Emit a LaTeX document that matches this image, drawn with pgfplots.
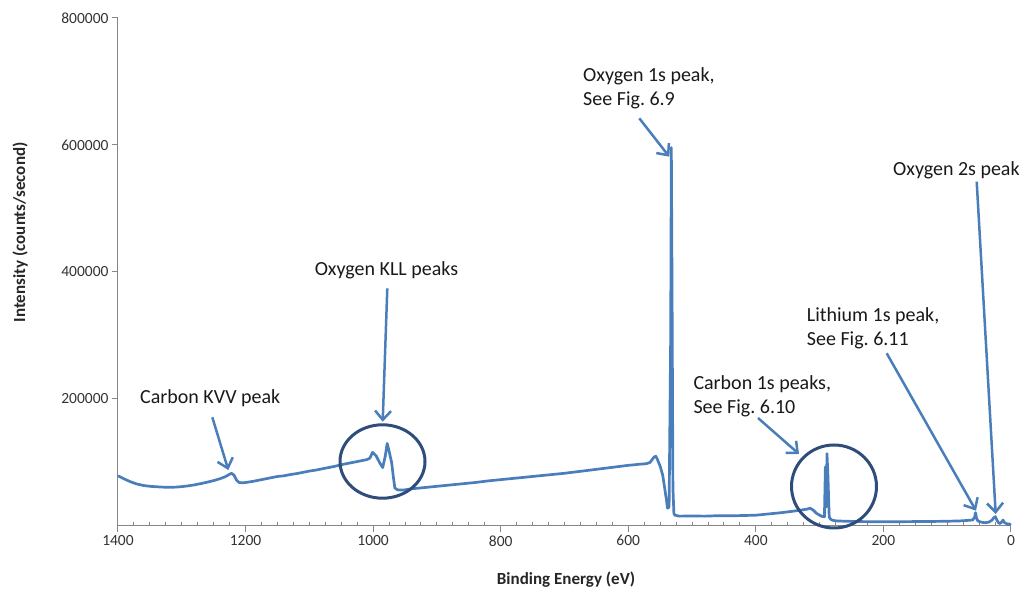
\documentclass[border=0pt]{standalone}
\usepackage{fontspec}
\setmainfont{Carlito}
\usepackage{pgfplots}
\pgfplotsset{compat=1.18}
\usetikzlibrary{arrows.meta}
\definecolor{specblue}{HTML}{4A7EBB}
\definecolor{ringblue}{HTML}{2E4D7B}
\definecolor{axisgrey}{HTML}{868686}
\frenchspacing

% XPS survey spectrum: binding energy (eV) vs. intensity (counts/s)
\pgfplotstableread{
be     cps
1400   79000
1390   74000
1380   69500
1370   66000
1360   63800
1350   62500
1340   61800
1330   61200
1320   61000
1310   61200
1300   62000
1290   63200
1280   64800
1270   66800
1260   69000
1250   71500
1240   74500
1232   77500
1226   81000
1222   83000
1218   80000
1214   72000
1210   68500
1205   68000
1200   68500
1190   70000
1180   72000
1170   74000
1160   76000
1150   78000
1140   79000
1130   81000
1120   82500
1110   84500
1100   86500
1090   88000
1080   90000
1070   92000
1060   94000
1050   96500
1040   98500
1030   100500
1020   102500
1010   104500
1005   107000
1001   116000
995    110000
990    100000
985    92000
981    110000
978    130000
975    118000
971    100000
968    75000
966    60000
962    57000
955    56500
950    57000
940    58500
930    59500
920    60500
910    61500
900    62500
880    64500
860    66500
840    68500
820    71000
800    73000
780    75000
760    77000
740    79000
720    81000
700    83000
680    85500
660    88000
640    90500
620    93000
600    95500
590    96500
580    97500
572    98000
566    100000
560    108000
557    110000
554    104000
550    94000
546    80000
543    60000
540    40000
538.5  28000
536    30000
533.5  300000
532.5  596000
531.5  400000
530    60000
528.5  20000
527    17000
520    15500
500    15800
480    15500
460    16200
440    16000
420    16500
400    17000
380    19000
360    21000
340    23500
330    25000
320    26500
315    28000
310    25000
305    20000
300    17000
296    15000
292.5  14500
291    93000
290    60000
289.5  30000
288.5  114000
287    80000
285    14000
283    11000
280    9000
273    8000
260    7500
240    7000
220    6800
200    6800
180    6700
160    6900
140    7000
120    7200
100    7500
80     8000
65     9000
60     9500
57     14000
55.5   21000
54     12000
52     8000
48     6500
44     5500
40     5200
35     6000
30     9000
27     13000
24.5   14700
22     9000
19     4500
17     4000
14     7000
12.5   9400
10     5000
7      4000
5      1800
3      3500
1      2000
0      1500
}\spectrum

\begin{document}
\begin{tikzpicture}[x=1pt,y=1pt]
\useasboundingbox (0,0) rectangle (1023,599);
\begin{axis}[
  at={(118pt,73pt)}, anchor=south west,
  width=893pt, height=508pt, scale only axis,
  x dir=reverse,
  xmin=0, xmax=1400, ymin=0, ymax=800000,
  scaled x ticks=false, scaled y ticks=false,
  axis x line=bottom, axis y line=left,
  axis line style={axisgrey, line width=1pt, -},
  xtick={0,200,...,1400},
  xticklabels={0,200,400,600,800,1000,1200,1400},
  minor x tick num=7,
  ytick={200000,400000,600000,800000},
  yticklabels={200000,400000,600000,800000},
  tick align=outside,
  major tick length=6pt, minor tick length=4pt,
  tick style={axisgrey, line width=1pt},
  minor tick style={yshift=4pt},
  ticklabel style={font=\fontsize{15.5}{18}\selectfont, text=black!80},
  xlabel={Binding Energy (eV)},
  ylabel={Intensity (counts/second)},
  label style={font=\bfseries\fontsize{17}{20}\selectfont, text=black!85},
  xlabel style={at={(rel axis cs:0.5017,-0.1063)}, anchor=center},
  ylabel style={at={(rel axis cs:-0.1097,0.578)}, anchor=center},
  clip=false,
]
\addplot[specblue, line width=2.7pt, line join=round, mark=none] table[x=be, y=cps] {\spectrum};
\end{axis}

% annotations
\tikzset{
  ann/.style={font=\fontsize{20}{24.5}\selectfont, inner sep=0pt, align=left, text=black!90},
  arr/.style={specblue, line width=2.5pt, -{Straight Barb[length=9pt,width=16pt]}},
  ring/.style={ringblue, line width=3pt},
}
\node[ann, anchor=west] at (583,510.5) {Oxygen 1s peak,\\See Fig. 6.9};
\node[ann, anchor=west] at (893,429) {Oxygen 2s peak};
\node[ann, anchor=center] at (386.5,328.3) {Oxygen KLL peaks};
\node[ann, anchor=west] at (140,201) {Carbon KVV peak};
\node[ann, anchor=west] at (806.7,270.5) {Lithium 1s peak,\\See Fig. 6.11};
\node[ann, anchor=west] at (693.3,202.5) {Carbon 1s peaks,\\See Fig. 6.10};

\draw[arr] (639.3,480.7) -- (669.3,442.3);
\draw[arr] (976.7,417.3) -- (995.7,85);
\draw[arr] (387.3,310.7) -- (382.7,177.3);
\draw[arr] (212.3,181.7) -- (228.3,129);
\draw[arr] (886.7,245.7) -- (976,88.3);
\draw[arr] (758,181) -- (799,145);

\draw[ring] (382.5,137.5) ellipse [x radius=42.5, y radius=36.7];
\draw[ring] (834,112.5) ellipse [x radius=42.5, y radius=41.5];
\end{tikzpicture}
\end{document}
